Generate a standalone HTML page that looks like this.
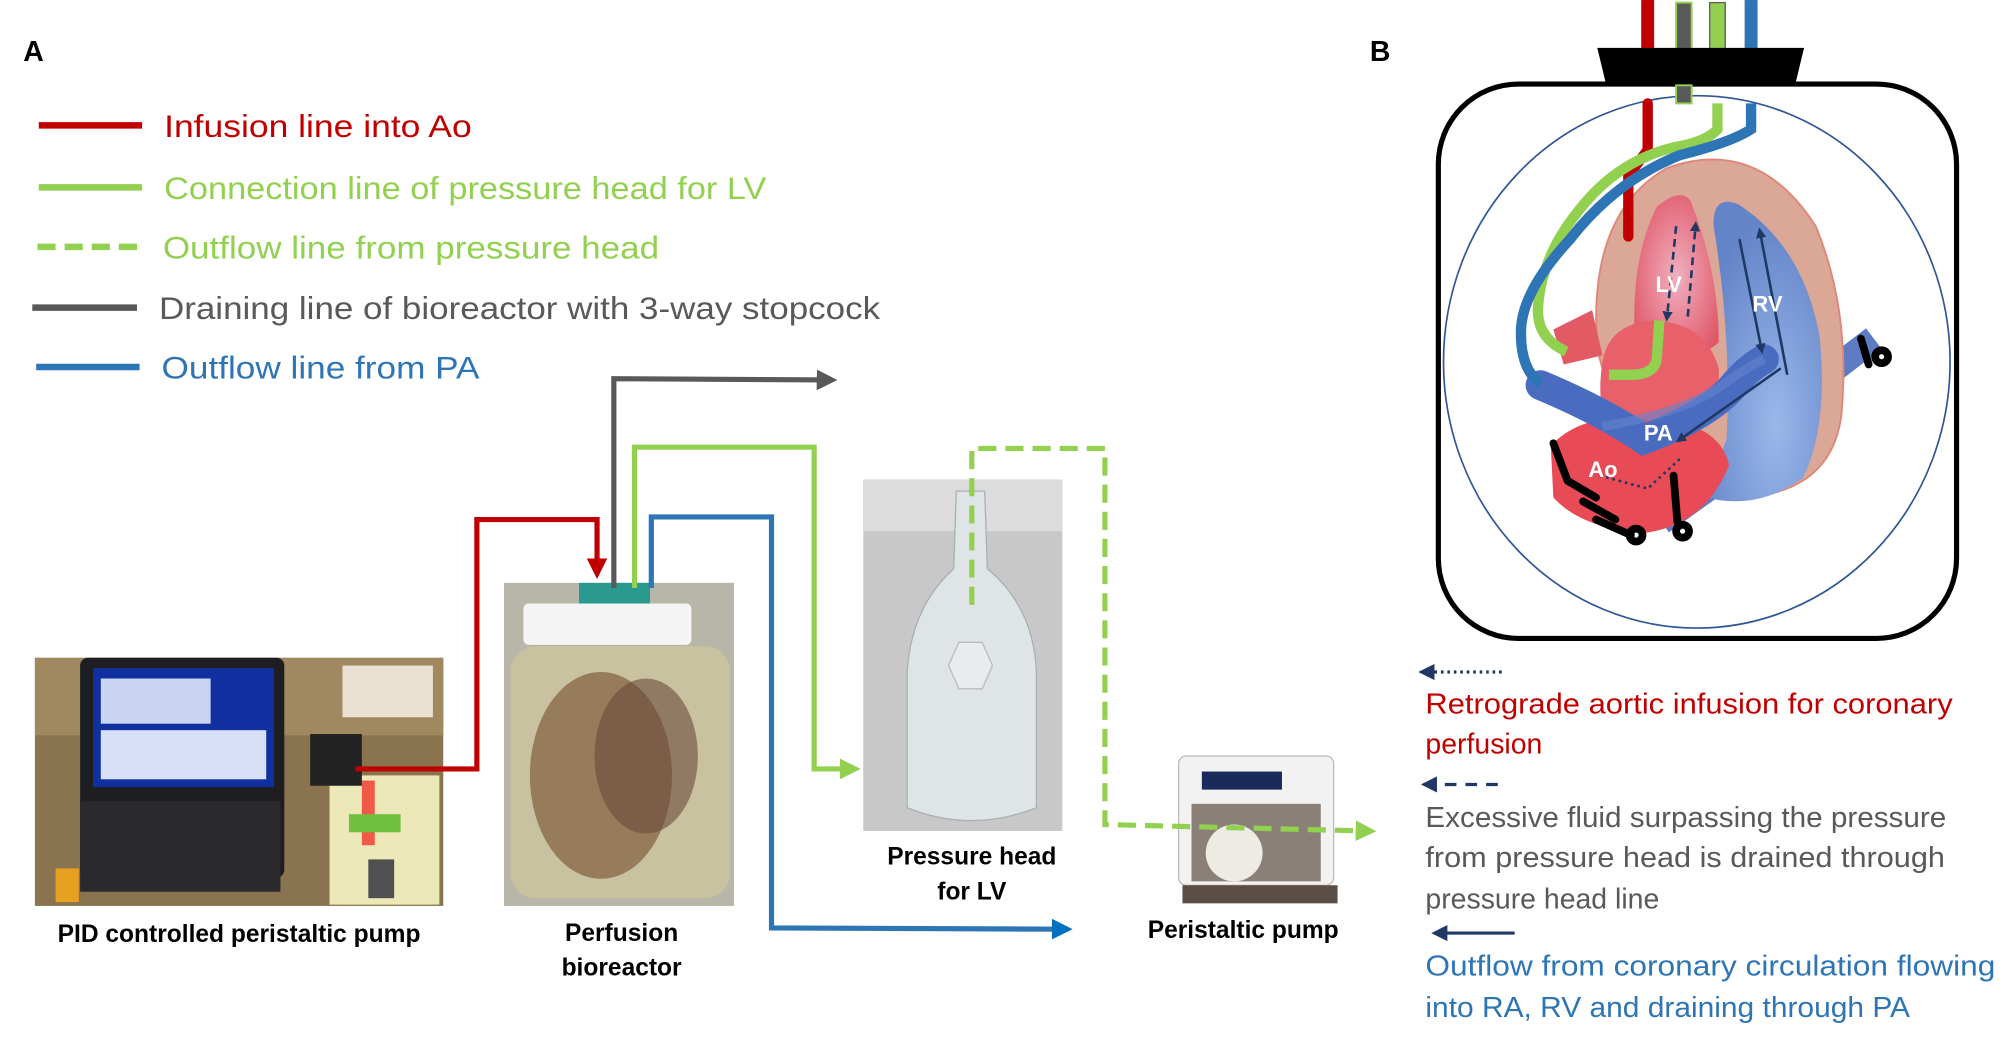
<!DOCTYPE html>
<html><head><meta charset="utf-8"><style>
html,body{margin:0;padding:0;background:#fff;}
svg{display:block;}
text{font-family:"Liberation Sans",sans-serif;}
</style></head><body>
<svg width="2016" height="1041" viewBox="0 0 1560 805.5" xmlns="http://www.w3.org/2000/svg">
<defs>
<marker id="ag" markerWidth="4" markerHeight="4" refX="2" refY="2" orient="auto" markerUnits="strokeWidth"><path d="M0,0 L4,2 L0,4z" fill="#92d050"/></marker>
<marker id="ar" markerWidth="4" markerHeight="4" refX="2" refY="2" orient="auto" markerUnits="strokeWidth"><path d="M0,0 L4,2 L0,4z" fill="#c00000"/></marker>
<marker id="ab" markerWidth="4" markerHeight="4" refX="2" refY="2" orient="auto" markerUnits="strokeWidth"><path d="M0,0 L4,2 L0,4z" fill="#0070c0"/></marker>
<marker id="ak" markerWidth="4" markerHeight="4" refX="2" refY="2" orient="auto" markerUnits="strokeWidth"><path d="M0,0 L4,2 L0,4z" fill="#595959"/></marker>
<marker id="an" markerWidth="5" markerHeight="5" refX="1" refY="2.5" orient="auto" markerUnits="strokeWidth"><path d="M5,0 L0,2.5 L5,5z" fill="#1f3864"/></marker>
<marker id="sa" markerWidth="4" markerHeight="4" refX="2" refY="2" orient="auto" markerUnits="strokeWidth"><path d="M0,0 L4,2 L0,4z" fill="#1f3864"/></marker>
<radialGradient id="rv" cx="0.6" cy="0.75" r="0.7"><stop offset="0" stop-color="#9bb8ea"/><stop offset="1" stop-color="#6484c8"/></radialGradient>
<radialGradient id="lv" cx="0.5" cy="0.5" r="0.6"><stop offset="0" stop-color="#f0b0c0"/><stop offset="1" stop-color="#e05868"/></radialGradient>
</defs>

<!-- Panel A -->
<text x="18" y="47" font-size="22" font-weight="bold">A</text>
<line x1="30" y1="97" x2="110" y2="97" stroke="#c00000" stroke-width="5"/>
<text x="127" y="106" font-size="24" fill="#c00000" textLength="238" lengthAdjust="spacingAndGlyphs">Infusion line into Ao</text>
<line x1="30" y1="145" x2="110" y2="145" stroke="#92d050" stroke-width="5"/>
<text x="127" y="154" font-size="24" fill="#92d050" textLength="466" lengthAdjust="spacingAndGlyphs">Connection line of pressure head for LV</text>
<line x1="29" y1="191" x2="110" y2="191" stroke="#92d050" stroke-width="5" stroke-dasharray="14,7"/>
<text x="126" y="200" font-size="24" fill="#92d050" textLength="384" lengthAdjust="spacingAndGlyphs">Outflow line from pressure head</text>
<line x1="25" y1="238" x2="106" y2="238" stroke="#595959" stroke-width="5"/>
<text x="123" y="247" font-size="24" fill="#595959" textLength="558" lengthAdjust="spacingAndGlyphs">Draining line of bioreactor with 3-way stopcock</text>
<line x1="28" y1="284" x2="108" y2="284" stroke="#2e75b6" stroke-width="5"/>
<text x="125" y="293" font-size="24" fill="#2e75b6" textLength="246" lengthAdjust="spacingAndGlyphs">Outflow line from PA</text>

<!-- photos -->
<rect x="27" y="509" width="316" height="192" fill="#8a7450"/>
<rect x="27" y="509" width="316" height="60" fill="#a08860"/>
<rect x="62" y="509" width="158" height="170" rx="6" fill="#1e1e22"/>
<rect x="72" y="517" width="140" height="92" fill="#1030a0"/>
<rect x="78" y="525" width="85" height="35" fill="#c8d4f0"/>
<rect x="78" y="565" width="128" height="38" fill="#d8e0f8"/>
<rect x="62" y="620" width="155" height="70" fill="#2a2a2e"/>
<rect x="43" y="672" width="18" height="26" fill="#e8a020"/>
<rect x="255" y="600" width="85" height="100" fill="#ece8b8"/>
<rect x="280" y="604" width="10" height="50" fill="#f05848"/>
<rect x="270" y="630" width="40" height="14" fill="#70c040"/>
<rect x="285" y="665" width="20" height="30" fill="#505050"/>
<rect x="240" y="568" width="40" height="40" fill="#222"/>
<rect x="265" y="515" width="70" height="40" fill="#e8e0d0"/>

<rect x="390" y="451" width="178" height="250" fill="#b8b6a8"/>
<rect x="395" y="500" width="170" height="195" rx="20" fill="#c8c2a0"/>
<ellipse cx="465" cy="600" rx="55" ry="80" fill="#8a6a4a" opacity="0.8"/>
<ellipse cx="500" cy="585" rx="40" ry="60" fill="#6a4a3a" opacity="0.6"/>
<rect x="405" y="467" width="130" height="32" rx="4" fill="#f4f4f4"/>
<rect x="448" y="451" width="55" height="16" fill="#2a9a90"/>

<rect x="668" y="371" width="154" height="272" fill="#c8c8c8"/>
<rect x="668" y="371" width="154" height="40" fill="#dcdcdc"/>
<path d="M740,380 L762,380 L764,440 Q800,470 802,520 L802,625 Q752,645 702,625 L702,520 Q705,470 738,440z" fill="#dfe4e6" stroke="#a8b0b4"/>
<polygon points="742,497 760,497 768,515 760,533 742,533 734,515" fill="#e8ecee" stroke="#bbb"/>

<rect x="912" y="585" width="120" height="100" rx="6" fill="#f2f2f2" stroke="#bbb"/>
<rect x="930" y="597" width="62" height="14" fill="#1a2a5a"/>
<rect x="922" y="622" width="100" height="60" fill="#8a8078"/>
<circle cx="955" cy="660" r="22" fill="#eeeae4"/>
<rect x="915" y="685" width="120" height="14" fill="#5a4e44"/>

<!-- connectors -->
<polyline points="475,455 475,293 640,294" fill="none" stroke="#595959" stroke-width="4" marker-end="url(#ak)"/>
<polyline points="491,455 491,346 630,346 630,595 658,595" fill="none" stroke="#92d050" stroke-width="4" marker-end="url(#ag)"/>
<polyline points="275,595 369,595 369,402 462,402 462,440" fill="none" stroke="#c00000" stroke-width="4" marker-end="url(#ar)"/>
<polyline points="504,455 504,400 597,400 597,718 822,719" fill="none" stroke="#2e75b6" stroke-width="4" marker-end="url(#ab)"/>
<polyline points="752,468 752,347 855,347 855,638 1057,643" fill="none" stroke="#92d050" stroke-width="4" stroke-dasharray="14,7" marker-end="url(#ag)"/>

<g font-size="19" font-weight="bold" text-anchor="middle">
<text x="185" y="729">PID controlled peristaltic pump</text>
<text x="481" y="728">Perfusion</text>
<text x="481" y="755">bioreactor</text>
<text x="752" y="669">Pressure head</text>
<text x="752" y="696">for LV</text>
<text x="962" y="726">Peristaltic pump</text>
</g>

<!-- Panel B -->
<text x="1060" y="47" font-size="22" font-weight="bold">B</text>
<rect x="1113" y="65" width="401" height="429" rx="62" fill="#fff" stroke="#000" stroke-width="4"/>
<ellipse cx="1313" cy="280" rx="196" ry="206" fill="none" stroke="#2f5597" stroke-width="1.3"/>
<!-- tubes top -->
<rect x="1270" y="0" width="10" height="40" fill="#c00000"/>
<rect x="1297" y="2" width="12" height="38" fill="#595959" stroke="#92d050" stroke-width="1.5"/>
<rect x="1323" y="2" width="12" height="38" fill="#92d050" stroke="#595959" stroke-width="1"/>
<rect x="1350" y="0" width="10" height="40" fill="#2e75b6"/>
<polygon points="1236,37 1396,37 1389,66 1243,66" fill="#000"/>
<rect x="1297" y="66" width="12" height="14" fill="#595959" stroke="#92d050" stroke-width="1.5"/>

<!-- heart -->
<path d="M1420,285 L1450,262" stroke="#5d7cc4" stroke-width="20"/>
<path d="M1285,403 L1345,360" stroke="#5d7cc4" stroke-width="22"/>
<path d="M1236,270 Q1228,165 1290,130 Q1360,105 1405,175 Q1432,240 1425,320 Q1418,380 1350,385 Q1262,380 1236,270z" fill="#dba898" stroke="#e08878" stroke-width="1.5"/>
<path d="M1336,340 Q1340,260 1326,175 Q1325,150 1345,158 Q1395,190 1408,260 Q1415,330 1395,370 Q1360,395 1320,385z" fill="url(#rv)"/>
<path d="M1265,260 Q1262,200 1282,160 Q1300,145 1308,155 Q1330,210 1330,265 Q1300,290 1265,260z" fill="url(#lv)"/>
<path d="M1202,255 L1232,240 L1240,275 L1210,282z" fill="#e25a64"/>
<path d="M1240,280 Q1245,250 1280,248 Q1320,250 1330,285 Q1332,320 1300,340 L1245,340 Q1235,310 1240,280z" fill="#e8606a"/>
<path d="M1200,345 Q1225,318 1275,325 Q1330,325 1338,360 Q1320,405 1275,412 Q1225,410 1202,385z" fill="#e84a56"/>
<path d="M1192,298 Q1240,318 1272,340 Q1320,322 1340,300 Q1352,285 1365,278" fill="none" stroke="#4a6cc0" stroke-width="23" stroke-linecap="round"/>
<path d="M1240,330 Q1300,320 1330,300 Q1350,285 1365,278" fill="none" stroke="#6384cf" stroke-width="7" opacity="0.6"/>
<!-- arrows inside -->
<g stroke="#1f3864" stroke-width="2" fill="none">
<line x1="1297" y1="175" x2="1290" y2="245" stroke-dasharray="6,4" marker-end="url(#sa)"/>
<line x1="1306" y1="245" x2="1312" y2="175" stroke-dasharray="6,4" marker-end="url(#sa)"/>
<line x1="1346" y1="185" x2="1363" y2="270" marker-end="url(#sa)"/>
<line x1="1383" y1="290" x2="1362" y2="180" marker-end="url(#sa)"/>
<line x1="1378" y1="285" x2="1300" y2="340" marker-end="url(#sa)"/>
<path d="M1238,368 L1275,378 L1300,355" stroke-dasharray="2,3"/>
</g>
<g font-size="17" font-weight="bold" fill="#fff">
<text x="1281" y="226">LV</text>
<text x="1356" y="241">RV</text>
<text x="1272" y="341">PA</text>
<text x="1229" y="369">Ao</text>
</g>
<!-- lines into heart -->
<path d="M1275,80 L1275,116 L1260,136 L1260,183" fill="none" stroke="#c00000" stroke-width="8" stroke-linejoin="round" stroke-linecap="round"/>
<path d="M1329,80 L1329,100 Q1320,110 1295,114 Q1250,125 1220,165 Q1192,200 1190,240 Q1190,262 1212,272" fill="none" stroke="#92d050" stroke-width="8"/>
<path d="M1284,248 L1282,278 Q1280,290 1262,290 L1245,290" fill="none" stroke="#92d050" stroke-width="8"/>
<path d="M1355,80 L1355,100 Q1340,110 1300,120 Q1250,140 1215,185 Q1178,225 1177,255 Q1176,285 1192,297" fill="none" stroke="#2e75b6" stroke-width="8"/>
<!-- clamps -->
<g stroke="#000" stroke-width="6" fill="none" stroke-linecap="round">
<path d="M1202,343 L1213,372"/><path d="M1213,372 L1235,385"/><path d="M1225,388 L1250,402"/><path d="M1235,402 L1262,414"/>
<circle cx="1266" cy="414" r="5"/>
<path d="M1295,368 L1298,404"/><circle cx="1302" cy="411" r="5"/>
<path d="M1440,262 L1446,282"/><circle cx="1456" cy="276" r="5"/>
</g>

<!-- legend B -->
<line x1="1100" y1="520" x2="1165" y2="520" stroke="#1f3864" stroke-width="2.5" stroke-dasharray="2,3" marker-start="url(#an)"/>
<text x="1103" y="552" font-size="22" fill="#c00000" textLength="408" lengthAdjust="spacingAndGlyphs">Retrograde aortic infusion for coronary</text>
<text x="1103" y="583" font-size="22" fill="#c00000">perfusion</text>
<line x1="1102" y1="607" x2="1165" y2="607" stroke="#1f3864" stroke-width="2.5" stroke-dasharray="9,7" marker-start="url(#an)"/>
<text x="1103" y="640" font-size="22" fill="#595959" textLength="403" lengthAdjust="spacingAndGlyphs">Excessive fluid surpassing the pressure</text>
<text x="1103" y="671" font-size="22" fill="#595959" textLength="402" lengthAdjust="spacingAndGlyphs">from pressure head is drained through</text>
<text x="1103" y="703" font-size="22" fill="#595959">pressure head line</text>
<line x1="1110" y1="722" x2="1172" y2="722" stroke="#1f3864" stroke-width="2.5" marker-start="url(#an)"/>
<text x="1103" y="755" font-size="22" fill="#2e75b6" textLength="441" lengthAdjust="spacingAndGlyphs">Outflow from coronary circulation flowing</text>
<text x="1103" y="787" font-size="22" fill="#2e75b6" textLength="375" lengthAdjust="spacingAndGlyphs">into RA, RV and draining through PA</text>
</svg>
</body></html>
